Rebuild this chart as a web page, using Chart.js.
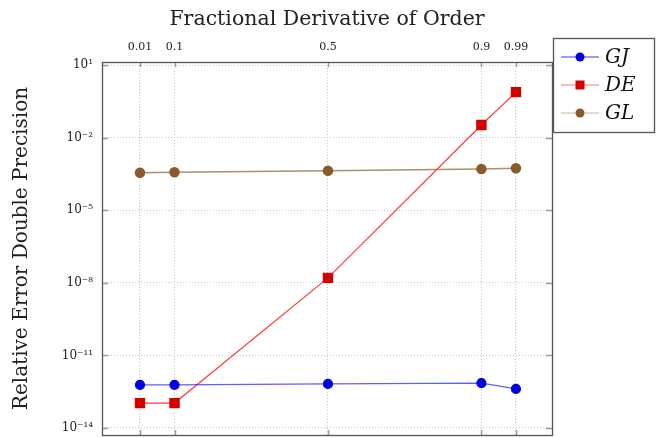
<!DOCTYPE html>
<html>
<head>
<meta charset="utf-8">
<script src="https://cdn.jsdelivr.net/npm/chart.js@4.4.1/dist/chart.umd.min.js"></script>
<style>
  html, body { margin: 0; padding: 0; background: #fff; overflow: hidden; }
  canvas { display: block; }
</style>
</head>
<body>
<canvas id="chart" width="662" height="438"></canvas>
<script>
// fractional orders (top axis)
var orders = [0.01, 0.1, 0.5, 0.9, 0.99];
// relative error, double precision
var errGJ = [6.0e-13, 6.0e-13, 6.6e-13, 7.2e-13, 4.1e-13];
var errDE = [1.07e-13, 1.07e-13, 1.6e-8, 3.3e-2, 0.76];
var errGL = [3.5e-4, 3.7e-4, 4.3e-4, 5.0e-4, 5.4e-4];
// y tick exponents
var yExponents = [1, -2, -5, -8, -11, -14];

var serif = "'DejaVu Serif', serif";
var sup = { "-": "\u207B", "0": "\u2070", "1": "\u00B9", "2": "\u00B2", "3": "\u00B3", "4": "\u2074",
  "5": "\u2075", "6": "\u2076", "7": "\u2077", "8": "\u2078", "9": "\u2079" };

function toPoints(arr) {
  return arr.map(function (v, i) { return { x: orders[i], y: v }; });
}

// frame, inner tick marks and legend, pgfplots style
var framePlugin = {
  id: "frame",
  afterDraw: function (chart) {
    var ctx = chart.ctx, a = chart.chartArea;
    var xs = chart.scales.x, ys = chart.scales.y;
    ctx.save();
    ctx.strokeStyle = "#9a9a9a";
    ctx.lineWidth = 1.5;
    orders.forEach(function (o) {
      var px = Math.round(xs.getPixelForValue(o)) + 0.5;
      ctx.beginPath();
      ctx.moveTo(px, a.top); ctx.lineTo(px, a.top + 5);
      ctx.moveTo(px, a.bottom); ctx.lineTo(px, a.bottom - 5);
      ctx.stroke();
    });
    yExponents.forEach(function (e) {
      var py = Math.round(ys.getPixelForValue(Math.pow(10, e))) + 0.5;
      ctx.beginPath();
      ctx.moveTo(a.left, py); ctx.lineTo(a.left + 6, py);
      ctx.moveTo(a.right, py); ctx.lineTo(a.right - 6, py);
      ctx.stroke();
    });
    ctx.strokeStyle = "#555";
    ctx.lineWidth = 1.3;
    ctx.strokeRect(a.left + 0.5, a.top + 0.5, a.right - a.left, a.bottom - a.top);

    // legend
    var lx = a.right + 1, ly = 38, lw = 101, lh = 94;
    ctx.fillStyle = "#fff";
    ctx.fillRect(lx, ly, lw, lh);
    ctx.strokeStyle = "#555";
    ctx.strokeRect(lx + 0.5, ly + 0.5, lw, lh);
    chart.data.datasets.forEach(function (ds, i) {
      var cy = 57 + i * 28;
      ctx.strokeStyle = ds.legendLine;
      ctx.lineWidth = 1.2;
      ctx.beginPath();
      ctx.moveTo(lx + 8, cy); ctx.lineTo(lx + 46, cy);
      ctx.stroke();
      ctx.fillStyle = ds.pointBackgroundColor;
      ctx.beginPath();
      if (ds.pointStyle === "rect") {
        ctx.rect(lx + 27 - 4.5, cy - 4.5, 9, 9);
      } else {
        ctx.arc(lx + 27, cy, 4.5, 0, Math.PI * 2);
      }
      ctx.fill();
      ctx.fillStyle = "#111";
      ctx.font = "italic 20px " + serif;
      ctx.textBaseline = "middle";
      ctx.textAlign = "left";
      ctx.fillText(ds.label, lx + 52, cy + 1);
    });
    ctx.restore();
  }
};

new Chart(document.getElementById("chart"), {
  type: "line",
  data: {
    datasets: [
      {
        label: "GJ", data: toPoints(errGJ),
        borderColor: "rgba(40,40,255,0.75)", legendLine: "#3a3aff",
        pointBackgroundColor: "#0000e0", pointBorderColor: "#0000e0",
        pointStyle: "circle", pointRadius: 4.5, borderWidth: 1.2
      },
      {
        label: "DE", data: toPoints(errDE),
        borderColor: "#ff3a3a", legendLine: "#ff7a7a",
        pointBackgroundColor: "#d40000", pointBorderColor: "#d40000",
        pointStyle: "rect", pointRadius: 6.5, borderWidth: 1.2
      },
      {
        label: "GL", data: toPoints(errGL),
        borderColor: "#a8916f", legendLine: "#c9b8a4",
        pointBackgroundColor: "#8a5a2b", pointBorderColor: "#8a5a2b",
        pointStyle: "circle", pointRadius: 4.5, borderWidth: 1.5
      }
    ]
  },
  options: {
    responsive: false,
    animation: false,
    layout: { autoPadding: false, padding: { left: 0, top: 0, right: 110, bottom: 3 } },
    plugins: { legend: { display: false }, tooltip: { enabled: false } },
    scales: {
      x: {
        type: "linear",
        position: "top",
        min: -0.089,
        max: 1.084,
        afterBuildTicks: function (s) { s.ticks = orders.map(function (v) { return { value: v }; }); },
        afterFit: function (s) { s.height = 62; s.paddingLeft = 0; s.paddingRight = 0; },
        ticks: {
          padding: 8, color: "#222", maxRotation: 0, autoSkip: false,
          font: { family: serif, size: 11 },
          callback: function (v) { return String(v); }
        },
        grid: { color: "#c8c8c8", drawTicks: false },
        border: { display: false, dash: [1, 2] },
        title: {
          display: true, text: "Fractional Derivative of Order", color: "#222",
          font: { family: serif, size: 20.5 }, padding: { top: 7, bottom: 0 }
        }
      },
      y: {
        type: "logarithmic",
        min: Math.pow(10, -14.29),
        max: Math.pow(10, 1.124),
        afterBuildTicks: function (s) {
          s.ticks = yExponents.map(function (e) { return { value: Math.pow(10, e) }; });
        },
        afterFit: function (s) { s.width = 102; s.paddingTop = 0; s.paddingBottom = 0; },
        ticks: {
          padding: 9, color: "#222", autoSkip: false,
          font: { family: serif, size: 12 },
          callback: function (v) {
            var e = String(Math.round(Math.log10(v)));
            return "10" + e.split("").map(function (c) { return sup[c]; }).join("");
          }
        },
        grid: { color: "#c8c8c8", drawTicks: false },
        border: { display: false, dash: [1, 2] },
        title: {
          display: true, text: "Relative Error Double Precision", color: "#222",
          font: { family: serif, size: 20 }, padding: { top: 10, bottom: 0 }
        }
      }
    }
  },
  plugins: [framePlugin]
});
</script>
</body>
</html>
